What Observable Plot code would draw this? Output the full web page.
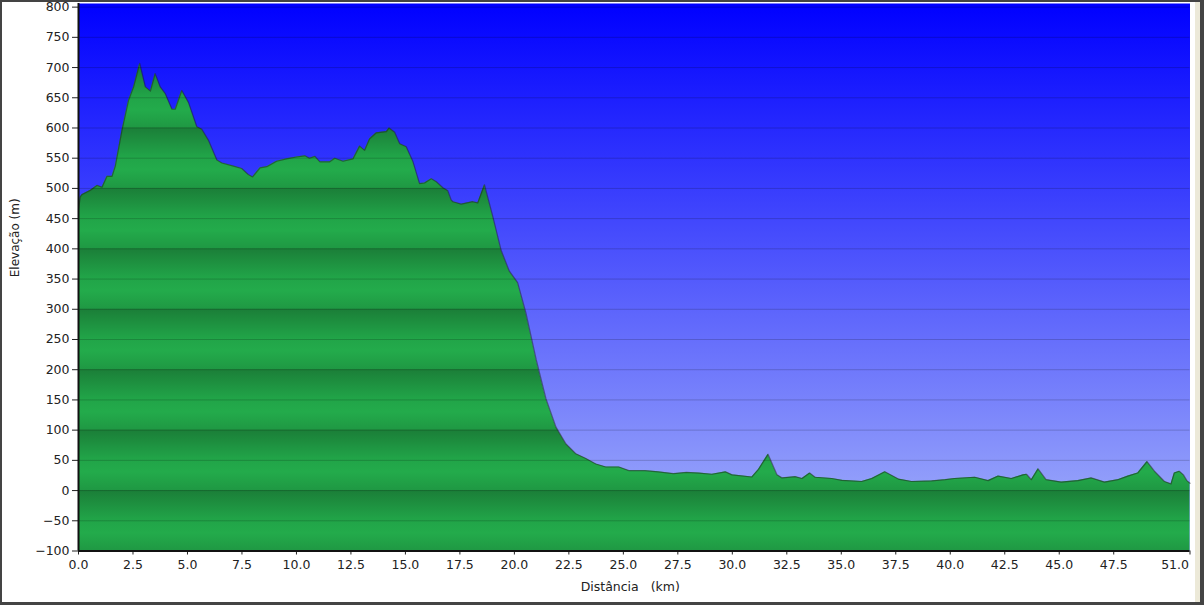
<!DOCTYPE html>
<html>
<head>
<meta charset="utf-8">
<script src="https://cdn.jsdelivr.net/npm/d3@7"></script>
<script src="https://cdn.jsdelivr.net/npm/@observablehq/plot@0.6"></script>
<style>
  body { margin: 0; background: white; }
  #wrap { position: relative; width: 1204px; height: 605px; overflow: hidden; background: white; }
  #chart svg { position: absolute; left: 0; top: 0; }
  .edge { position: absolute; }
</style>
</head>
<body>
<div id="wrap">
  <div id="chart"></div>
  <div class="edge" style="left:1195px;top:0;width:5px;height:605px;background:#ece9d8"></div>
  <div class="edge" style="left:0;top:0;width:1204px;height:605px;box-sizing:border-box;border:2px solid #444;border-right-width:4px;border-bottom-width:3px"></div>
</div>
<script>
const km = [
  0.0, 0.08, 0.17, 0.55, 0.85, 1.08, 1.31, 1.54, 1.69, 2.0, 2.3, 2.53, 2.81, 3.07, 3.3, 3.52,
  3.75, 3.98, 4.29, 4.44, 4.74, 5.05, 5.43, 5.66, 5.96, 6.35, 6.58, 7.11, 7.49, 7.79, 7.99,
  8.33, 8.64, 9.09, 9.55, 10.0, 10.39, 10.6, 10.85, 11.08, 11.53, 11.76, 12.14, 12.6, 12.9,
  13.13, 13.36, 13.67, 14.13, 14.25, 14.51, 14.74, 15.04, 15.35, 15.65, 15.88, 16.19, 16.42,
  16.72, 16.95, 17.1, 17.18, 17.56, 18.09, 18.32, 18.63, 19.0, 19.39, 19.77, 20.15, 20.53,
  21.0, 21.45, 21.91, 22.37, 22.82, 23.28, 23.74, 24.2, 24.8, 25.26, 26.0, 26.6, 27.3, 27.9,
  28.47, 29.07, 29.69, 29.99, 30.9, 31.2, 31.64, 32.05, 32.28, 32.89, 33.2, 33.55, 33.8,
  34.57, 35.03, 35.94, 36.4, 37.0, 37.62, 38.23, 39.14, 39.76, 40.2, 41.13, 41.74, 42.2,
  42.81, 43.34, 43.5, 43.72, 44.03, 44.4, 45.1, 45.86, 46.47, 47.08, 47.69, 48.15, 48.6,
  49.03, 49.37, 49.83, 50.13, 50.28, 50.51, 50.7, 50.86, 51.0
];
const elev = [
  465, 486, 490, 497, 505, 502, 520, 520, 537, 597, 646, 668, 707, 668, 661, 690,
  668, 657, 631, 631, 662, 642, 602, 598, 580, 547, 542, 537, 533, 523, 519,
  534, 536, 545, 549, 552, 554, 550, 553, 544, 544, 550, 545, 549, 570,
  563, 582, 592, 594, 600, 593, 574, 569, 544, 508, 509, 516, 511,
  501, 496, 481, 478, 474, 478, 476, 506, 455, 398, 363, 344, 294,
  217, 152, 105, 77, 61, 53, 44, 39, 39, 33, 33, 31, 28, 30,
  29, 27, 31, 26, 22.5, 35, 60, 26, 21, 23, 20, 29, 22,
  20, 17, 15, 20, 31, 19, 15, 16, 18, 20, 22, 16.5, 24,
  20, 26, 27, 18, 36, 18, 14, 16.5, 21, 14, 18, 24, 29,
  48, 32, 15, 11, 29, 32, 26, 16.5, 12
];
const xTicks = [0, 2.5, 5, 7.5, 10, 12.5, 15, 17.5, 20, 22.5, 25, 27.5, 30, 32.5, 35, 37.5, 40, 42.5, 45, 47.5, 51];
const yTicks = d3.range(-100, 801, 50);
const xEnd = 51;

const data = km.map((d, i) => ({km: d, elev: elev[i]}));
const fmt = d3.format(".1f");

const chart = Plot.plot({
  width: 1204,
  height: 605,
  marginLeft: 78,
  marginRight: 14.5,
  marginTop: 3,
  marginBottom: 54.5,
  style: {fontFamily: "DejaVu Sans", fontSize: "12.5px", color: "#222", background: "transparent"},
  x: {domain: [0, xEnd], ticks: xTicks, tickFormat: d => d === xEnd ? "" : fmt(d), tickSize: 4, tickPadding: 5, label: null},
  y: {domain: [-100, 806], ticks: yTicks, tickSize: 6, tickPadding: 3, label: null},
  marks: [
    Plot.frame({fill: "url(#bgGrad)", stroke: null}),
    Plot.areaY(data, {x: "km", y1: -100, y2: "elev", fill: "url(#bands)"}),
    Plot.lineY(data, {x: "km", y: "elev", stroke: "#222", strokeOpacity: 0.5, strokeWidth: 1.2}),
    Plot.ruleY(yTicks.filter(d => d > -100), {stroke: "black", strokeOpacity: 0.18}),
    Plot.ruleX([0], {stroke: "#111", strokeWidth: 2}),
    Plot.ruleY([-100], {stroke: "#111", strokeWidth: 2}),
    Plot.text([xEnd], {x: d => d, text: d => fmt(d), frameAnchor: "bottom", textAnchor: "end", lineAnchor: "top", dy: 9, dx: -1, fill: "#222"}),
    Plot.text(["Distância\u00a0\u00a0\u00a0(km)"], {frameAnchor: "bottom", dy: 40, dx: -4, fill: "#222"}),
    Plot.text(["Elevação (m)"], {frameAnchor: "left", dx: -63, rotate: -90, fill: "#222", fontSize: 12})
  ]
});

// fundo em degradê e faixas verdes (período de 100 m) alinhados à escala y
const ys = chart.scale("y");
const top800 = ys.apply(800);
const bandH = ys.apply(700) - top800;
const svg = d3.select(chart);
const defs = svg.insert("defs", ":first-child");
const bg = defs.append("linearGradient").attr("id", "bgGrad").attr("x1", 0).attr("y1", 0).attr("x2", 0).attr("y2", 1);
bg.append("stop").attr("offset", "0%").attr("stop-color", "#0000ff");
bg.append("stop").attr("offset", "100%").attr("stop-color", "#a6b4fa");
const bandGrad = defs.append("linearGradient").attr("id", "bandGrad").attr("x1", 0).attr("y1", 0).attr("x2", 0).attr("y2", 1);
bandGrad.append("stop").attr("offset", "0%").attr("stop-color", "#1b7e38");
bandGrad.append("stop").attr("offset", "48%").attr("stop-color", "#21a448");
bandGrad.append("stop").attr("offset", "70%").attr("stop-color", "#23ab4b");
bandGrad.append("stop").attr("offset", "100%").attr("stop-color", "#1f9843");
const pat = defs.append("pattern").attr("id", "bands").attr("patternUnits", "userSpaceOnUse")
  .attr("x", 0).attr("y", top800).attr("width", 20).attr("height", bandH);
pat.append("rect").attr("width", 20).attr("height", bandH).attr("fill", "url(#bandGrad)");

d3.select("#chart").append(() => chart);
</script>
</body>
</html>
